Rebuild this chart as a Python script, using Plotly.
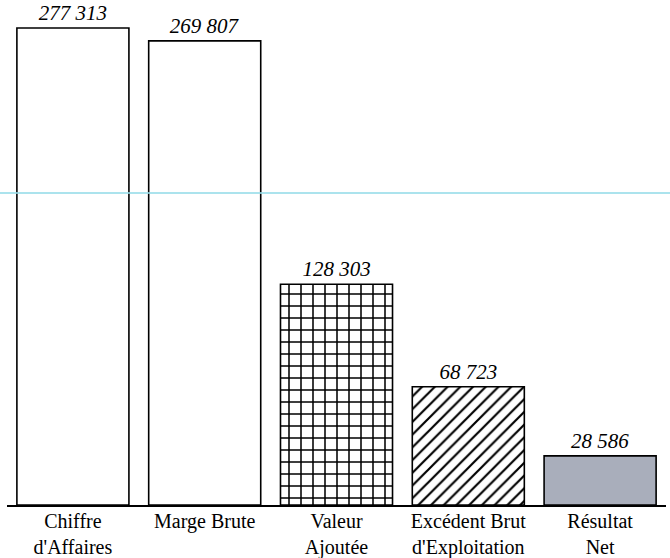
import plotly.graph_objects as go

categories = ["Chiffre<br>d'Affaires", "Marge Brute", "Valeur<br>Ajoutée",
              "Excédent Brut<br>d'Exploitation", "Résultat<br>Net"]
values = [277313, 269807, 128303, 68723, 28586]
value_labels = ["277 313", "269 807", "128 303", "68 723", "28 586"]
scan_line_value = 181400

fill_colors = ["white", "white", "white", "white", "#a9aebb"]
pattern_shapes = ["", "", "+", "/", ""]
pattern_sizes = [8, 8, 12, 9, 8]
pattern_solidity = [0.2, 0.2, 0.24, 0.24, 0.2]

fig = go.Figure()
for i in range(len(categories)):
    marker = dict(color=fill_colors[i], line=dict(color="black", width=1.6))
    if pattern_shapes[i]:
        marker["pattern"] = dict(shape=pattern_shapes[i], size=pattern_sizes[i],
                                 solidity=pattern_solidity[i], fgcolor="black",
                                 bgcolor="white", fillmode="replace")
    fig.add_trace(go.Bar(
        x=[categories[i]],
        y=[values[i]],
        text=[value_labels[i]],
        textposition="outside",
        constraintext="none",
        cliponaxis=False,
        textfont=dict(family="Liberation Serif", size=21, color="black", style="italic"),
        width=0.85,
        marker=marker,
        hoverinfo="skip",
    ))

fig.add_shape(type="line", xref="paper", yref="y", x0=-0.02, x1=1.02,
              y0=scan_line_value, y1=scan_line_value,
              line=dict(color="rgba(150,220,232,0.8)", width=2), layer="above")

fig.update_layout(
    width=670, height=558,
    margin=dict(l=7, r=4, t=0, b=53),
    paper_bgcolor="white", plot_bgcolor="white",
    showlegend=False, barmode="overlay",
    font=dict(family="Liberation Serif", size=20, color="black"),
    xaxis=dict(showline=True, linecolor="black", linewidth=2, ticks="",
               showgrid=False, zeroline=False, ticklabelstandoff=-3,
               categoryorder="array", categoryarray=categories,
               tickfont=dict(family="Liberation Serif", size=20, color="black")),
    yaxis=dict(visible=False, range=[0, 293600], showgrid=False, zeroline=False),
)

fig.write_html("out.html", config={"displayModeBar": False},
               post_script="document.body.style.margin='0';document.body.style.overflow='hidden';")
